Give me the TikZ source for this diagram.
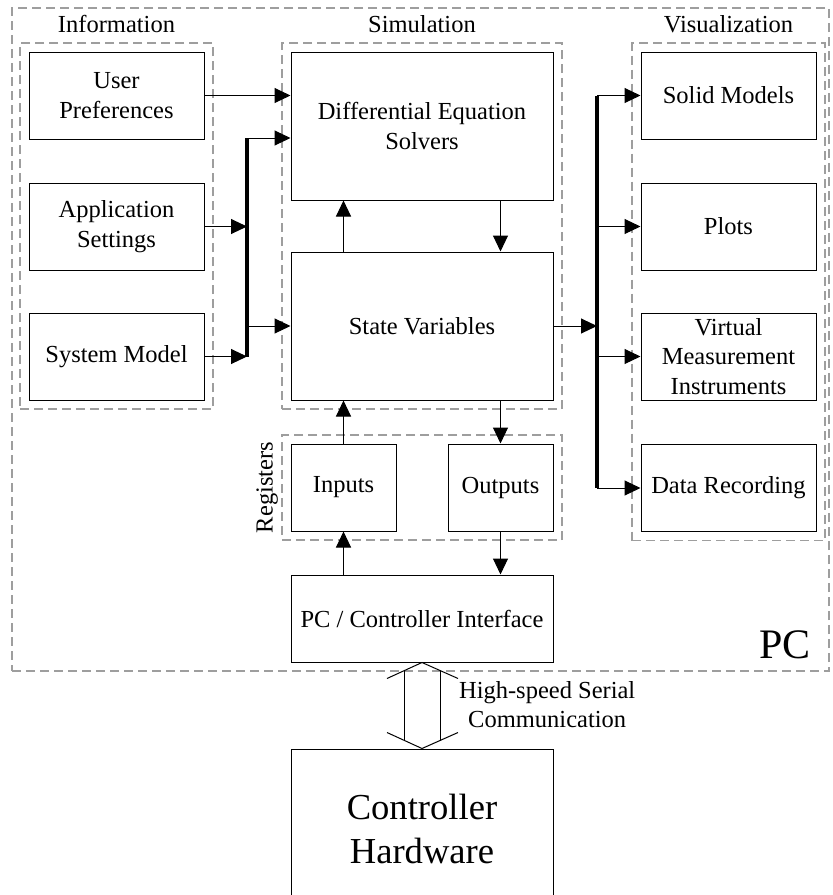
\documentclass[tikz,border=0pt]{standalone}
\usepackage{fontspec}
\setmainfont{Liberation Serif}
\usepackage{tikz}
\usetikzlibrary{arrows.meta, positioning, fit, calc}
\tikzstyle{arrow} = [line width=0.5pt, -{Triangle[length=8pt, width=7.5pt]}]
\tikzstyle{bus} = [line width=2pt]

\begin{document}
\begin{tikzpicture}[
        x=0.5pt, y=-0.5pt,
        font=\fontsize{12.25}{14.8}\selectfont,
        block/.style={draw, line width=0.5pt, align=center, inner sep=0pt, minimum width=87.5pt, minimum height=43.5pt},
        wide/.style={block, minimum width=131pt},
        group/.style={draw=black!38, line width=0.8pt, dash pattern=on 4.5pt off 2.5pt, inner sep=4.25pt}
    ]
        \useasboundingbox (0,0) rectangle (833,895);
        \clip (0,0) rectangle (833,895);

        % Information blocks
        \node (userpref) [block] at (116.5,95.5) {User\\Preferences};
        \node (appset) [block] at (116.5,226.5) {Application\\Settings};
        \node (sysmodel) [block] at (116.5,356.5) {System Model};

        % Simulation blocks
        \node (diffeq) [wide, minimum height=74pt] at (422,126) {Differential Equation\\Solvers};
        \node (statevar) [wide, minimum height=74pt] at (422,326) {State Variables};

        % Visualization blocks
        \node (solid) [block] at (728.5,95.5) {Solid Models};
        \node (plots) [block] at (728.5,226.5) {Plots};
        \node (virtual) [block] at (728.5,356.5) {Virtual\\Measurement\\Instruments};
        \node (datarec) [block] at (728.5,488) {Data Recording};

        % Registers
        \node (inputs) [block, minimum width=52.5pt] at (343.5,487.5) {Inputs};
        \node (outputs) [block, minimum width=52.5pt] at (500.5,487.5) {Outputs};

        % Interface and hardware
        \node (iface) [wide] at (422,618.5) {PC / Controller Interface};
        \node (hardware) [wide, minimum height=80pt, font=\fontsize{18.3}{22}\selectfont] at (422,829) {Controller\\Hardware};

        % Dashed groups
        \node (info) [group, fit=(userpref)(sysmodel)] {};
        \node (sim) [group, fit=(diffeq)(statevar)] {};
        \node (vis) [group, fit=(solid)(datarec)] {};
        \node (regs) [group, fit=(inputs)(outputs)] {};
        \node (pc) [group, inner sep=0pt, fit={(12,8) (829,671)}] {};

        % Add labels
        \node (infolabel) [above=1pt of info] {Information};
        \node (simlabel) [above=1pt of sim] {Simulation};
        \node (vislabel) [above=1pt of vis] {Visualization};
        \node (reglabel) [rotate=90, anchor=south, inner sep=1.5pt] at (regs.west) {Registers};
        \node (pclabel) [anchor=base east, inner sep=0pt, font=\fontsize{21}{25}\selectfont] at ($(pc.south east)+(-19,-13)$) {PC};

        % Information to simulation
        \coordinate (lbtop) at (247,138);
        \coordinate (lbbot) at (lbtop |- sysmodel.east);
        \draw[arrow] (userpref.east) -- (userpref.east -| diffeq.west);
        \draw[arrow] (appset.east) -- (appset.east -| lbtop);
        \draw[arrow] (sysmodel.east) -- (lbbot);
        \draw[bus] (lbtop) -- (lbbot);
        \draw[arrow] (lbtop) -- (lbtop -| diffeq.west);
        \draw[arrow] (lbtop |- statevar.west) -- (statevar.west);

        % Solvers and state
        \draw[arrow] (inputs.north |- statevar.north) -- (inputs.north |- diffeq.south);
        \draw[arrow] (outputs.north |- diffeq.south) -- (outputs.north |- statevar.north);

        % Simulation to visualization
        \coordinate (rbtop) at (597,95.5);
        \coordinate (rbbot) at (rbtop |- datarec.west);
        \draw[arrow] (statevar.east) -- (statevar.east -| rbtop);
        \draw[bus] (rbtop) -- (rbbot);
        \draw[arrow] (rbtop) -- (solid.west);
        \draw[arrow] (rbtop |- plots.west) -- (plots.west);
        \draw[arrow] (rbtop |- virtual.west) -- (virtual.west);
        \draw[arrow] (rbbot) -- (datarec.west);

        % Registers and interface
        \draw[arrow] (inputs.north) -- (inputs.north |- statevar.south);
        \draw[arrow] (outputs.north |- statevar.south) -- (outputs.north);
        \draw[arrow] (inputs.south |- iface.north) -- (inputs.south);
        \draw[arrow] (outputs.south) -- (outputs.south |- iface.north);

        % Serial link
        \draw[line width=0.5pt] ($(iface.south)+(-35,16)$) -- (iface.south) -- ($(iface.south)+(36,16)$);
        \draw[line width=0.5pt] ($(hardware.north)+(-35,-16)$) -- (hardware.north) -- ($(hardware.north)+(36,-16)$);
        \draw[line width=0.5pt] ($(iface.south)+(-18,8)$) -- ($(hardware.north)+(-18,-8)$);
        \draw[line width=0.5pt] ($(iface.south)+(18,8)$) -- ($(hardware.north)+(18,-8)$);
        \node (serial) [anchor=west, align=center] at ($(iface.south)+(30,42)$) {High-speed Serial\\Communication};

    \end{tikzpicture}
\end{document}
